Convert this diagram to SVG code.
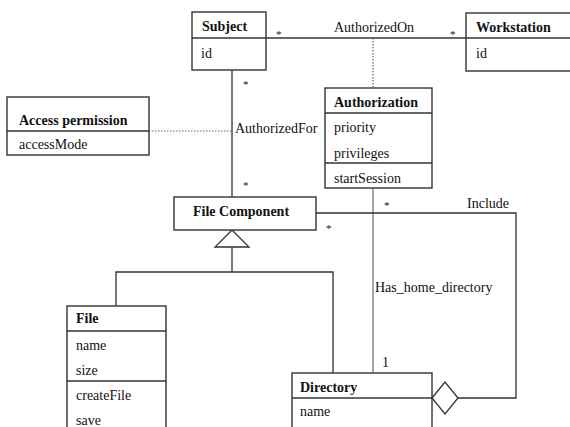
<svg xmlns="http://www.w3.org/2000/svg" width="570" height="427" viewBox="0 0 570 427">
<style>
.box{fill:#fff;stroke:#333;stroke-width:1.4}
.sep{stroke:#333;stroke-width:1.4}
.ln{fill:none;stroke:#333;stroke-width:1.3}
.dot{fill:none;stroke:#666;stroke-width:1.2;stroke-dasharray:1.5 1.5}
text{font-family:"Liberation Serif","Times New Roman",serif;font-size:14px;fill:#111}
.b{font-weight:bold}
.m{font-size:11px}
</style>
<rect width="570" height="427" fill="#fff"/>
<g id="connectors">
<line class="ln" x1="266" y1="38" x2="466" y2="38"/>
<line class="dot" x1="373" y1="38" x2="373" y2="88"/>
<line class="ln" x1="232" y1="70" x2="232" y2="197"/>
<line class="dot" x1="149" y1="131" x2="232" y2="131"/>
<line class="ln" x1="373" y1="188" x2="373" y2="373" style="stroke:#777"/>
<polyline class="ln" points="316,213 516,213 516,398 458,398"/>
<polygon class="ln" points="432,398 445,382 458,398 445,414" fill="#fff"/>
<polygon class="ln" points="232,230 215,247 249,247" fill="#fff"/>
<line class="ln" x1="232" y1="247" x2="232" y2="272"/>
<polyline class="ln" points="116,306 116,272 333,272 333,373"/>
<text x="276" y="38" class="m">*</text>
<text x="450" y="38" class="m">*</text>
<text x="334" y="32">AuthorizedOn</text>
<text x="243" y="88" class="m">*</text>
<text x="243" y="189" class="m">*</text>
<text x="235" y="133">AuthorizedFor</text>
<text x="384" y="209" class="m">*</text>
<text x="326" y="232" class="m">*</text>
<text x="467" y="208">Include</text>
<text x="375" y="292">Has_home_directory</text>
<text x="382" y="367">1</text>
</g>
<g id="subject">
<rect class="box" x="192" y="12" width="74" height="58"/>
<line class="sep" x1="192" y1="38" x2="266" y2="38"/>
<text x="202" y="31" class="b">Subject</text>
<text x="201" y="58">id</text>
</g>
<g id="workstation">
<rect class="box" x="466" y="13" width="110" height="58"/>
<line class="sep" x1="466" y1="38" x2="576" y2="38"/>
<text x="476" y="32" class="b">Workstation</text>
<text x="476" y="58">id</text>
</g>
<g id="access-permission">
<rect class="box" x="7" y="97" width="142" height="58"/>
<line class="sep" x1="7" y1="131" x2="149" y2="131"/>
<text x="19" y="125" class="b">Access permission</text>
<text x="19" y="149">accessMode</text>
</g>
<g id="authorization">
<rect class="box" x="325" y="88" width="107" height="100"/>
<line class="sep" x1="325" y1="113" x2="432" y2="113"/>
<line class="sep" x1="325" y1="163" x2="432" y2="163"/>
<text x="334" y="107" class="b">Authorization</text>
<text x="334" y="132">priority</text>
<text x="334" y="158">privileges</text>
<text x="334" y="183">startSession</text>
</g>
<g id="file-component">
<rect class="box" x="174" y="197" width="142" height="33"/>
<text x="193" y="216" class="b">File Component</text>
</g>
<g id="file">
<rect class="box" x="67" y="306" width="99" height="130"/>
<line class="sep" x1="67" y1="331" x2="166" y2="331"/>
<line class="sep" x1="67" y1="381" x2="166" y2="381"/>
<text x="76" y="323" class="b">File</text>
<text x="76" y="350">name</text>
<text x="76" y="375">size</text>
<text x="76" y="400">createFile</text>
<text x="76" y="425">save</text>
</g>
<g id="directory">
<rect class="box" x="292" y="373" width="140" height="70"/>
<line class="sep" x1="292" y1="398" x2="432" y2="398"/>
<text x="300" y="392" class="b">Directory</text>
<text x="300" y="416">name</text>
</g>
</svg>
